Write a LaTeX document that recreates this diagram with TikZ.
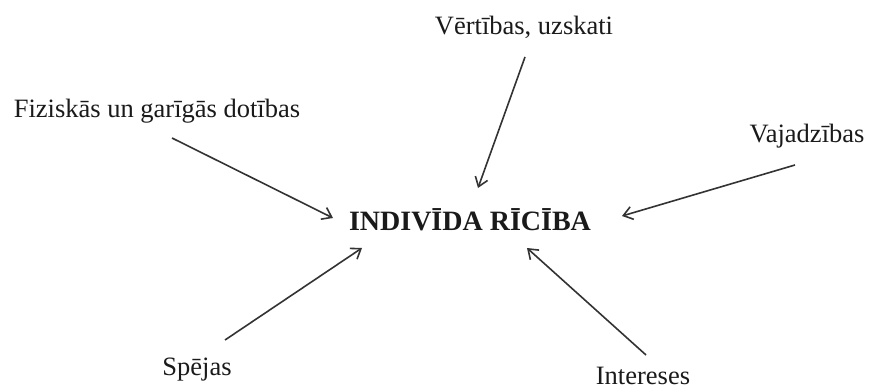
\documentclass[tikz,border=0pt]{standalone}
\usepackage{fontspec}
\setmainfont{Liberation Serif}
\usetikzlibrary{arrows.meta}
\definecolor{ink}{HTML}{1A1A1A}
\definecolor{arrowc}{HTML}{333333}
\tikzset{
  lbl/.style={inner sep=0pt, text=ink, font=\fontsize{26.5}{30}\selectfont},
  ctr/.style={inner sep=0pt, text=ink, font=\fontsize{28}{32}\selectfont\bfseries},
  conn/.style={draw=arrowc, line width=1.6pt, -{Straight Barb[length=9pt,width=13pt,line width=1.6pt]}}
}
\begin{document}
\begin{tikzpicture}[x=1pt,y=-1pt]
\useasboundingbox[fill=white] (0,0) rectangle (869,390);
\node[ctr] (c) at (470,220) {INDIVĪDA RĪCĪBA};
\node[lbl, anchor=base] (v) at (524,35) {Vērtības, uzskati};
\node[lbl, anchor=base] (f) at (157,118) {Fiziskās un garīgās dotības};
\node[lbl, anchor=base] (j) at (807,143) {Vajadzības};
\node[lbl, anchor=base] (s) at (197,375) {Spējas};
\node[lbl, anchor=base] (i) at (643,384) {Intereses};
\coordinate (v1) at (525,57);  \coordinate (v2) at (478,188);
\coordinate (f1) at (172,138); \coordinate (f2) at (333,218);
\coordinate (j1) at (795,165); \coordinate (j2) at (622,216);
\coordinate (s1) at (225,340); \coordinate (s2) at (362,248);
\coordinate (i1) at (646,355); \coordinate (i2) at (527,248);
\draw[conn] (v1) -- (v2);
\draw[conn] (f1) -- (f2);
\draw[conn] (j1) -- (j2);
\draw[conn] (s1) -- (s2);
\draw[conn] (i1) -- (i2);
\end{tikzpicture}
\end{document}
